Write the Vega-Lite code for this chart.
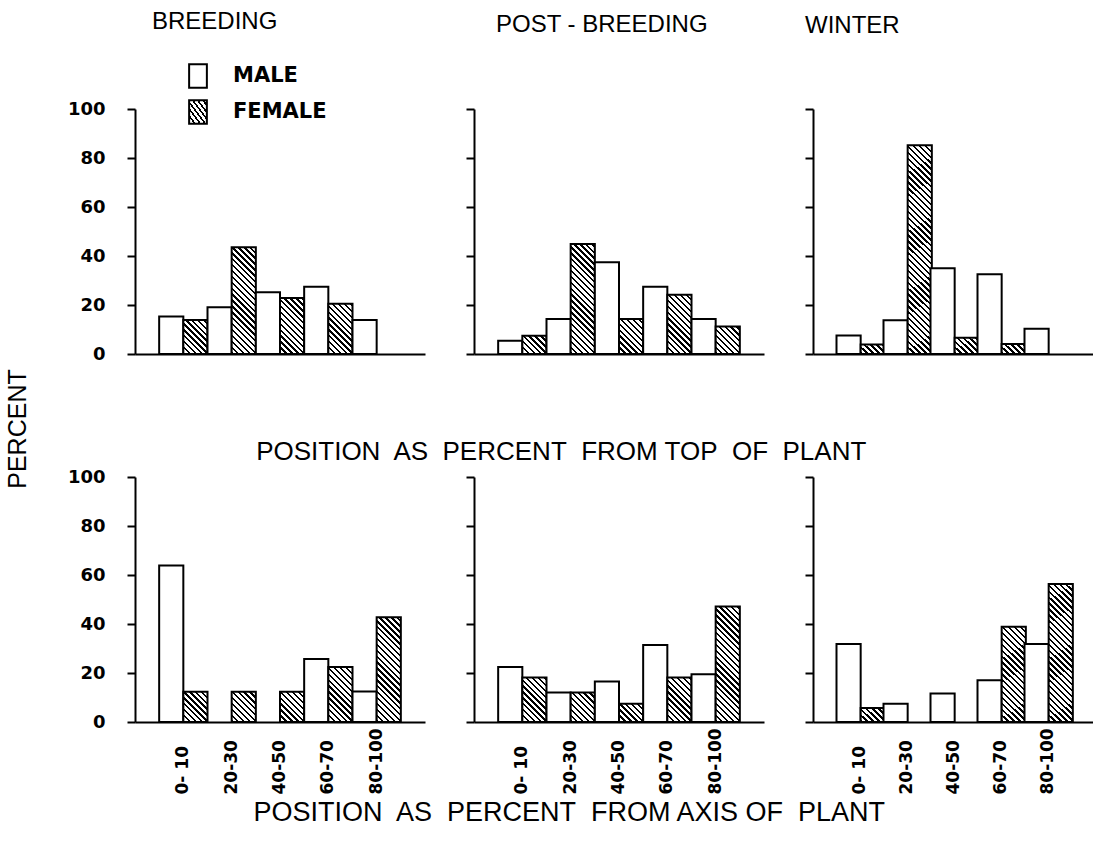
{
  "$schema": "https://vega.github.io/schema/vega-lite/v6.json",
  "background": "white",
  "padding": {"left": 6, "right": 0, "top": 10, "bottom": 4},
  "params": [
    {"name": "hatch", "value": [
      {"offset": 0, "color": "black"}, {"offset": 0.01, "color": "black"}, {"offset": 0.01, "color": "white"}, {"offset": 0.025, "color": "white"},
      {"offset": 0.025, "color": "black"}, {"offset": 0.035, "color": "black"}, {"offset": 0.035, "color": "white"}, {"offset": 0.05, "color": "white"},
      {"offset": 0.05, "color": "black"}, {"offset": 0.06, "color": "black"}, {"offset": 0.06, "color": "white"}, {"offset": 0.075, "color": "white"},
      {"offset": 0.075, "color": "black"}, {"offset": 0.085, "color": "black"}, {"offset": 0.085, "color": "white"}, {"offset": 0.1, "color": "white"},
      {"offset": 0.1, "color": "black"}, {"offset": 0.11, "color": "black"}, {"offset": 0.11, "color": "white"}, {"offset": 0.125, "color": "white"},
      {"offset": 0.125, "color": "black"}, {"offset": 0.135, "color": "black"}, {"offset": 0.135, "color": "white"}, {"offset": 0.15, "color": "white"},
      {"offset": 0.15, "color": "black"}, {"offset": 0.16, "color": "black"}, {"offset": 0.16, "color": "white"}, {"offset": 0.175, "color": "white"},
      {"offset": 0.175, "color": "black"}, {"offset": 0.185, "color": "black"}, {"offset": 0.185, "color": "white"}, {"offset": 0.2, "color": "white"},
      {"offset": 0.2, "color": "black"}, {"offset": 0.21, "color": "black"}, {"offset": 0.21, "color": "white"}, {"offset": 0.225, "color": "white"},
      {"offset": 0.225, "color": "black"}, {"offset": 0.235, "color": "black"}, {"offset": 0.235, "color": "white"}, {"offset": 0.25, "color": "white"},
      {"offset": 0.25, "color": "black"}, {"offset": 0.26, "color": "black"}, {"offset": 0.26, "color": "white"}, {"offset": 0.275, "color": "white"},
      {"offset": 0.275, "color": "black"}, {"offset": 0.285, "color": "black"}, {"offset": 0.285, "color": "white"}, {"offset": 0.3, "color": "white"},
      {"offset": 0.3, "color": "black"}, {"offset": 0.31, "color": "black"}, {"offset": 0.31, "color": "white"}, {"offset": 0.325, "color": "white"},
      {"offset": 0.325, "color": "black"}, {"offset": 0.335, "color": "black"}, {"offset": 0.335, "color": "white"}, {"offset": 0.35, "color": "white"},
      {"offset": 0.35, "color": "black"}, {"offset": 0.36, "color": "black"}, {"offset": 0.36, "color": "white"}, {"offset": 0.375, "color": "white"},
      {"offset": 0.375, "color": "black"}, {"offset": 0.385, "color": "black"}, {"offset": 0.385, "color": "white"}, {"offset": 0.4, "color": "white"},
      {"offset": 0.4, "color": "black"}, {"offset": 0.41, "color": "black"}, {"offset": 0.41, "color": "white"}, {"offset": 0.425, "color": "white"},
      {"offset": 0.425, "color": "black"}, {"offset": 0.435, "color": "black"}, {"offset": 0.435, "color": "white"}, {"offset": 0.45, "color": "white"},
      {"offset": 0.45, "color": "black"}, {"offset": 0.46, "color": "black"}, {"offset": 0.46, "color": "white"}, {"offset": 0.475, "color": "white"},
      {"offset": 0.475, "color": "black"}, {"offset": 0.485, "color": "black"}, {"offset": 0.485, "color": "white"}, {"offset": 0.5, "color": "white"},
      {"offset": 0.5, "color": "black"}, {"offset": 0.51, "color": "black"}, {"offset": 0.51, "color": "white"}, {"offset": 0.525, "color": "white"},
      {"offset": 0.525, "color": "black"}, {"offset": 0.535, "color": "black"}, {"offset": 0.535, "color": "white"}, {"offset": 0.55, "color": "white"},
      {"offset": 0.55, "color": "black"}, {"offset": 0.56, "color": "black"}, {"offset": 0.56, "color": "white"}, {"offset": 0.575, "color": "white"},
      {"offset": 0.575, "color": "black"}, {"offset": 0.585, "color": "black"}, {"offset": 0.585, "color": "white"}, {"offset": 0.6, "color": "white"},
      {"offset": 0.6, "color": "black"}, {"offset": 0.61, "color": "black"}, {"offset": 0.61, "color": "white"}, {"offset": 0.625, "color": "white"},
      {"offset": 0.625, "color": "black"}, {"offset": 0.635, "color": "black"}, {"offset": 0.635, "color": "white"}, {"offset": 0.65, "color": "white"},
      {"offset": 0.65, "color": "black"}, {"offset": 0.66, "color": "black"}, {"offset": 0.66, "color": "white"}, {"offset": 0.675, "color": "white"},
      {"offset": 0.675, "color": "black"}, {"offset": 0.685, "color": "black"}, {"offset": 0.685, "color": "white"}, {"offset": 0.7, "color": "white"},
      {"offset": 0.7, "color": "black"}, {"offset": 0.71, "color": "black"}, {"offset": 0.71, "color": "white"}, {"offset": 0.725, "color": "white"},
      {"offset": 0.725, "color": "black"}, {"offset": 0.735, "color": "black"}, {"offset": 0.735, "color": "white"}, {"offset": 0.75, "color": "white"},
      {"offset": 0.75, "color": "black"}, {"offset": 0.76, "color": "black"}, {"offset": 0.76, "color": "white"}, {"offset": 0.775, "color": "white"},
      {"offset": 0.775, "color": "black"}, {"offset": 0.785, "color": "black"}, {"offset": 0.785, "color": "white"}, {"offset": 0.8, "color": "white"},
      {"offset": 0.8, "color": "black"}, {"offset": 0.81, "color": "black"}, {"offset": 0.81, "color": "white"}, {"offset": 0.825, "color": "white"},
      {"offset": 0.825, "color": "black"}, {"offset": 0.835, "color": "black"}, {"offset": 0.835, "color": "white"}, {"offset": 0.85, "color": "white"},
      {"offset": 0.85, "color": "black"}, {"offset": 0.86, "color": "black"}, {"offset": 0.86, "color": "white"}, {"offset": 0.875, "color": "white"},
      {"offset": 0.875, "color": "black"}, {"offset": 0.885, "color": "black"}, {"offset": 0.885, "color": "white"}, {"offset": 0.9, "color": "white"},
      {"offset": 0.9, "color": "black"}, {"offset": 0.91, "color": "black"}, {"offset": 0.91, "color": "white"}, {"offset": 0.925, "color": "white"},
      {"offset": 0.925, "color": "black"}, {"offset": 0.935, "color": "black"}, {"offset": 0.935, "color": "white"}, {"offset": 0.95, "color": "white"},
      {"offset": 0.95, "color": "black"}, {"offset": 0.96, "color": "black"}, {"offset": 0.96, "color": "white"}, {"offset": 0.975, "color": "white"},
      {"offset": 0.975, "color": "black"}, {"offset": 0.985, "color": "black"}, {"offset": 0.985, "color": "white"}, {"offset": 1, "color": "white"}
    ]},
    {"name": "lhatch", "value": [
      {"offset": 0, "color": "black"}, {"offset": 0.057, "color": "black"}, {"offset": 0.057, "color": "white"}, {"offset": 0.143, "color": "white"},
      {"offset": 0.143, "color": "black"}, {"offset": 0.2, "color": "black"}, {"offset": 0.2, "color": "white"}, {"offset": 0.286, "color": "white"},
      {"offset": 0.286, "color": "black"}, {"offset": 0.343, "color": "black"}, {"offset": 0.343, "color": "white"}, {"offset": 0.429, "color": "white"},
      {"offset": 0.429, "color": "black"}, {"offset": 0.486, "color": "black"}, {"offset": 0.486, "color": "white"}, {"offset": 0.571, "color": "white"},
      {"offset": 0.571, "color": "black"}, {"offset": 0.629, "color": "black"}, {"offset": 0.629, "color": "white"}, {"offset": 0.714, "color": "white"},
      {"offset": 0.714, "color": "black"}, {"offset": 0.771, "color": "black"}, {"offset": 0.771, "color": "white"}, {"offset": 0.857, "color": "white"},
      {"offset": 0.857, "color": "black"}, {"offset": 0.914, "color": "black"}, {"offset": 0.914, "color": "white"}, {"offset": 1, "color": "white"}
    ]}
  ],
  "config": {
    "view": {"stroke": null},
    "axis": {"domainColor": "black", "tickColor": "black", "labelColor": "black", "domainWidth": 2, "tickWidth": 2, "grid": false, "labelFont": "DejaVu Sans", "labelFontWeight": "bold", "labelFontSize": 18},
    "title": {"color": "black", "fontWeight": "normal", "font": "Liberation Sans"},
    "legend": {"title": null, "orient": "none", "legendX": 50, "legendY": -46, "padding": 0, "symbolType": "M-0.75,-1H0.75V1H-0.75Z", "symbolSize": 560, "symbolStrokeWidth": 2, "symbolStrokeColor": "black", "labelFont": "DejaVu Sans", "labelFontSize": 21, "labelFontWeight": "bold", "labelColor": "black", "labelOffset": 22, "rowPadding": 4}
  },
  "data": {"values": [
    {"pos": "top", "season": "BREEDING", "cat": "0- 10", "sex": "MALE", "pct": 15.3},
    {"pos": "top", "season": "BREEDING", "cat": "0- 10", "sex": "FEMALE", "pct": 13.9},
    {"pos": "top", "season": "BREEDING", "cat": "20-30", "sex": "MALE", "pct": 19.1},
    {"pos": "top", "season": "BREEDING", "cat": "20-30", "sex": "FEMALE", "pct": 43.6},
    {"pos": "top", "season": "BREEDING", "cat": "40-50", "sex": "MALE", "pct": 25.2},
    {"pos": "top", "season": "BREEDING", "cat": "40-50", "sex": "FEMALE", "pct": 22.9},
    {"pos": "top", "season": "BREEDING", "cat": "60-70", "sex": "MALE", "pct": 27.5},
    {"pos": "top", "season": "BREEDING", "cat": "60-70", "sex": "FEMALE", "pct": 20.5},
    {"pos": "top", "season": "BREEDING", "cat": "80-100", "sex": "MALE", "pct": 13.9},
    {"pos": "top", "season": "POST - BREEDING", "cat": "0- 10", "sex": "MALE", "pct": 5.4},
    {"pos": "top", "season": "POST - BREEDING", "cat": "0- 10", "sex": "FEMALE", "pct": 7.5},
    {"pos": "top", "season": "POST - BREEDING", "cat": "20-30", "sex": "MALE", "pct": 14.3},
    {"pos": "top", "season": "POST - BREEDING", "cat": "20-30", "sex": "FEMALE", "pct": 44.9},
    {"pos": "top", "season": "POST - BREEDING", "cat": "40-50", "sex": "MALE", "pct": 37.4},
    {"pos": "top", "season": "POST - BREEDING", "cat": "40-50", "sex": "FEMALE", "pct": 14.3},
    {"pos": "top", "season": "POST - BREEDING", "cat": "60-70", "sex": "MALE", "pct": 27.5},
    {"pos": "top", "season": "POST - BREEDING", "cat": "60-70", "sex": "FEMALE", "pct": 24.2},
    {"pos": "top", "season": "POST - BREEDING", "cat": "80-100", "sex": "MALE", "pct": 14.3},
    {"pos": "top", "season": "POST - BREEDING", "cat": "80-100", "sex": "FEMALE", "pct": 11.2},
    {"pos": "top", "season": "WINTER", "cat": "0- 10", "sex": "MALE", "pct": 7.6},
    {"pos": "top", "season": "WINTER", "cat": "0- 10", "sex": "FEMALE", "pct": 3.9},
    {"pos": "top", "season": "WINTER", "cat": "20-30", "sex": "MALE", "pct": 13.8},
    {"pos": "top", "season": "WINTER", "cat": "20-30", "sex": "FEMALE", "pct": 85.2},
    {"pos": "top", "season": "WINTER", "cat": "40-50", "sex": "MALE", "pct": 35.0},
    {"pos": "top", "season": "WINTER", "cat": "40-50", "sex": "FEMALE", "pct": 6.6},
    {"pos": "top", "season": "WINTER", "cat": "60-70", "sex": "MALE", "pct": 32.6},
    {"pos": "top", "season": "WINTER", "cat": "60-70", "sex": "FEMALE", "pct": 4.1},
    {"pos": "top", "season": "WINTER", "cat": "80-100", "sex": "MALE", "pct": 10.3},
    {"pos": "axis", "season": "BREEDING", "cat": "0- 10", "sex": "MALE", "pct": 63.9},
    {"pos": "axis", "season": "BREEDING", "cat": "0- 10", "sex": "FEMALE", "pct": 12.3},
    {"pos": "axis", "season": "BREEDING", "cat": "20-30", "sex": "FEMALE", "pct": 12.3},
    {"pos": "axis", "season": "BREEDING", "cat": "40-50", "sex": "FEMALE", "pct": 12.3},
    {"pos": "axis", "season": "BREEDING", "cat": "60-70", "sex": "MALE", "pct": 25.7},
    {"pos": "axis", "season": "BREEDING", "cat": "60-70", "sex": "FEMALE", "pct": 22.4},
    {"pos": "axis", "season": "BREEDING", "cat": "80-100", "sex": "MALE", "pct": 12.5},
    {"pos": "axis", "season": "BREEDING", "cat": "80-100", "sex": "FEMALE", "pct": 42.8},
    {"pos": "axis", "season": "POST - BREEDING", "cat": "0- 10", "sex": "MALE", "pct": 22.5},
    {"pos": "axis", "season": "POST - BREEDING", "cat": "0- 10", "sex": "FEMALE", "pct": 18.2},
    {"pos": "axis", "season": "POST - BREEDING", "cat": "20-30", "sex": "MALE", "pct": 12.0},
    {"pos": "axis", "season": "POST - BREEDING", "cat": "20-30", "sex": "FEMALE", "pct": 12.0},
    {"pos": "axis", "season": "POST - BREEDING", "cat": "40-50", "sex": "MALE", "pct": 16.5},
    {"pos": "axis", "season": "POST - BREEDING", "cat": "40-50", "sex": "FEMALE", "pct": 7.5},
    {"pos": "axis", "season": "POST - BREEDING", "cat": "60-70", "sex": "MALE", "pct": 31.4},
    {"pos": "axis", "season": "POST - BREEDING", "cat": "60-70", "sex": "FEMALE", "pct": 18.2},
    {"pos": "axis", "season": "POST - BREEDING", "cat": "80-100", "sex": "MALE", "pct": 19.5},
    {"pos": "axis", "season": "POST - BREEDING", "cat": "80-100", "sex": "FEMALE", "pct": 47.1},
    {"pos": "axis", "season": "WINTER", "cat": "0- 10", "sex": "MALE", "pct": 31.8},
    {"pos": "axis", "season": "WINTER", "cat": "0- 10", "sex": "FEMALE", "pct": 5.7},
    {"pos": "axis", "season": "WINTER", "cat": "20-30", "sex": "MALE", "pct": 7.5},
    {"pos": "axis", "season": "WINTER", "cat": "40-50", "sex": "MALE", "pct": 11.6},
    {"pos": "axis", "season": "WINTER", "cat": "60-70", "sex": "MALE", "pct": 17.0},
    {"pos": "axis", "season": "WINTER", "cat": "60-70", "sex": "FEMALE", "pct": 38.9},
    {"pos": "axis", "season": "WINTER", "cat": "80-100", "sex": "MALE", "pct": 31.8},
    {"pos": "axis", "season": "WINTER", "cat": "80-100", "sex": "FEMALE", "pct": 56.3}
  ]},
  "title": {"text": "PERCENT", "orient": "left", "anchor": "middle", "fontSize": 25, "offset": 36, "dx": -11},
  "spacing": 3,
  "vconcat": [
    {
      "spacing": 40,
      "title": {"text": "POSITION\u00a0 AS\u00a0 PERCENT\u00a0 FROM TOP\u00a0 OF\u00a0 PLANT", "orient": "bottom", "anchor": "middle", "fontSize": 26, "offset": 76, "dx": -20},
      "hconcat": [
        {
          "width": 290, "height": 245,
          "title": {"text": "BREEDING", "anchor": "start", "frame": "group", "dx": 17, "offset": 66, "fontSize": 24},
          "transform": [{"filter": "datum.pos === 'top' && datum.season === 'BREEDING'"}],
          "mark": {"type": "bar", "strokeWidth": 2, "stroke": "black"},
          "encoding": {
            "x": {"field": "cat", "type": "nominal", "scale": {"domain": ["0- 10", "20-30", "40-50", "60-70", "80-100"], "paddingInner": 0, "paddingOuter": 0.5}, "axis": {"title": null, "labels": false, "ticks": false}},
            "xOffset": {"field": "sex", "type": "nominal", "scale": {"domain": ["MALE", "FEMALE"]}},
            "y": {"field": "pct", "type": "quantitative", "scale": {"domain": [0, 100], "nice": false}, "axis": {"title": null, "values": [0, 20, 40, 60, 80, 100], "tickSize": 8, "labelPadding": 22}},
            "fill": {"field": "sex", "type": "nominal", "scale": {"domain": ["MALE", "FEMALE"], "range": ["white", {"expr": "{gradient: 'linear', x1: 0, y1: 1, x2: 1, y2: 0, stops: lhatch}"}]}, "condition": {"test": "datum.sex === 'FEMALE'", "value": {"expr": "{gradient: 'linear', x1: 0, y1: 1, x2: 24.17 * 236 / (584.2 + pow(datum.pct * 2.45, 2)), y2: 1 - datum.pct * 2.45 * 236 / (584.2 + pow(datum.pct * 2.45, 2)), stops: hatch}"}}}
          }
        },
        {
          "width": 290, "height": 245,
          "title": {"text": "POST - BREEDING", "anchor": "start", "frame": "group", "dx": 22, "offset": 71, "fontSize": 24},
          "transform": [{"filter": "datum.pos === 'top' && datum.season === 'POST - BREEDING'"}],
          "mark": {"type": "bar", "strokeWidth": 2, "stroke": "black"},
          "encoding": {
            "x": {"field": "cat", "type": "nominal", "scale": {"domain": ["0- 10", "20-30", "40-50", "60-70", "80-100"], "paddingInner": 0, "paddingOuter": 0.5}, "axis": {"title": null, "labels": false, "ticks": false}},
            "xOffset": {"field": "sex", "type": "nominal", "scale": {"domain": ["MALE", "FEMALE"]}},
            "y": {"field": "pct", "type": "quantitative", "scale": {"domain": [0, 100], "nice": false}, "axis": {"title": null, "values": [0, 20, 40, 60, 80, 100], "tickSize": 8, "labels": false}},
            "fill": {"field": "sex", "type": "nominal", "scale": {"domain": ["MALE", "FEMALE"], "range": ["white", {"expr": "{gradient: 'linear', x1: 0, y1: 1, x2: 1, y2: 0, stops: lhatch}"}]}, "condition": {"test": "datum.sex === 'FEMALE'", "value": {"expr": "{gradient: 'linear', x1: 0, y1: 1, x2: 24.17 * 236 / (584.2 + pow(datum.pct * 2.45, 2)), y2: 1 - datum.pct * 2.45 * 236 / (584.2 + pow(datum.pct * 2.45, 2)), stops: hatch}"}}}
          }
        },
        {
          "width": 282, "height": 245,
          "title": {"text": "WINTER", "anchor": "start", "frame": "group", "dx": -8, "offset": 70, "fontSize": 24},
          "transform": [{"filter": "datum.pos === 'top' && datum.season === 'WINTER'"}],
          "mark": {"type": "bar", "strokeWidth": 2, "stroke": "black"},
          "encoding": {
            "x": {"field": "cat", "type": "nominal", "scale": {"domain": ["0- 10", "20-30", "40-50", "60-70", "80-100"], "paddingInner": 0, "paddingOuter": 0.5}, "axis": {"title": null, "labels": false, "ticks": false}},
            "xOffset": {"field": "sex", "type": "nominal", "scale": {"domain": ["MALE", "FEMALE"]}},
            "y": {"field": "pct", "type": "quantitative", "scale": {"domain": [0, 100], "nice": false}, "axis": {"title": null, "values": [0, 20, 40, 60, 80, 100], "tickSize": 8, "labels": false}},
            "fill": {"field": "sex", "type": "nominal", "scale": {"domain": ["MALE", "FEMALE"], "range": ["white", {"expr": "{gradient: 'linear', x1: 0, y1: 1, x2: 1, y2: 0, stops: lhatch}"}]}, "condition": {"test": "datum.sex === 'FEMALE'", "value": {"expr": "{gradient: 'linear', x1: 0, y1: 1, x2: 23.5 * 236 / (552.3 + pow(datum.pct * 2.45, 2)), y2: 1 - datum.pct * 2.45 * 236 / (552.3 + pow(datum.pct * 2.45, 2)), stops: hatch}"}}}
          }
        }
      ]
    },
    {
      "spacing": 40,
      "title": {"text": "POSITION\u00a0 AS\u00a0 PERCENT\u00a0 FROM AXIS OF\u00a0 PLANT", "orient": "bottom", "anchor": "middle", "fontSize": 27, "offset": 6, "dx": -12},
      "hconcat": [
        {
          "width": 290, "height": 245,
          "transform": [{"filter": "datum.pos === 'axis' && datum.season === 'BREEDING'"}],
          "mark": {"type": "bar", "strokeWidth": 2, "stroke": "black"},
          "encoding": {
            "x": {"field": "cat", "type": "nominal", "scale": {"domain": ["0- 10", "20-30", "40-50", "60-70", "80-100"], "paddingInner": 0, "paddingOuter": 0.5}, "axis": {"title": null, "ticks": false, "labelAngle": -90, "labelAlign": "left", "labelBaseline": "middle", "labelPadding": 72, "labelFontSize": 17, "labelOverlap": false}},
            "xOffset": {"field": "sex", "type": "nominal", "scale": {"domain": ["MALE", "FEMALE"]}},
            "y": {"field": "pct", "type": "quantitative", "scale": {"domain": [0, 100], "nice": false}, "axis": {"title": null, "values": [0, 20, 40, 60, 80, 100], "tickSize": 8, "labelPadding": 22}},
            "fill": {"field": "sex", "type": "nominal", "scale": {"domain": ["MALE", "FEMALE"], "range": ["white", {"expr": "{gradient: 'linear', x1: 0, y1: 1, x2: 1, y2: 0, stops: lhatch}"}]}, "condition": {"test": "datum.sex === 'FEMALE'", "value": {"expr": "{gradient: 'linear', x1: 0, y1: 1, x2: 24.17 * 236 / (584.2 + pow(datum.pct * 2.45, 2)), y2: 1 - datum.pct * 2.45 * 236 / (584.2 + pow(datum.pct * 2.45, 2)), stops: hatch}"}}}
          }
        },
        {
          "width": 290, "height": 245,
          "transform": [{"filter": "datum.pos === 'axis' && datum.season === 'POST - BREEDING'"}],
          "mark": {"type": "bar", "strokeWidth": 2, "stroke": "black"},
          "encoding": {
            "x": {"field": "cat", "type": "nominal", "scale": {"domain": ["0- 10", "20-30", "40-50", "60-70", "80-100"], "paddingInner": 0, "paddingOuter": 0.5}, "axis": {"title": null, "ticks": false, "labelAngle": -90, "labelAlign": "left", "labelBaseline": "middle", "labelPadding": 72, "labelFontSize": 17, "labelOverlap": false}},
            "xOffset": {"field": "sex", "type": "nominal", "scale": {"domain": ["MALE", "FEMALE"]}},
            "y": {"field": "pct", "type": "quantitative", "scale": {"domain": [0, 100], "nice": false}, "axis": {"title": null, "values": [0, 20, 40, 60, 80, 100], "tickSize": 8, "labels": false}},
            "fill": {"field": "sex", "type": "nominal", "scale": {"domain": ["MALE", "FEMALE"], "range": ["white", {"expr": "{gradient: 'linear', x1: 0, y1: 1, x2: 1, y2: 0, stops: lhatch}"}]}, "condition": {"test": "datum.sex === 'FEMALE'", "value": {"expr": "{gradient: 'linear', x1: 0, y1: 1, x2: 24.17 * 236 / (584.2 + pow(datum.pct * 2.45, 2)), y2: 1 - datum.pct * 2.45 * 236 / (584.2 + pow(datum.pct * 2.45, 2)), stops: hatch}"}}}
          }
        },
        {
          "width": 282, "height": 245,
          "transform": [{"filter": "datum.pos === 'axis' && datum.season === 'WINTER'"}],
          "mark": {"type": "bar", "strokeWidth": 2, "stroke": "black"},
          "encoding": {
            "x": {"field": "cat", "type": "nominal", "scale": {"domain": ["0- 10", "20-30", "40-50", "60-70", "80-100"], "paddingInner": 0, "paddingOuter": 0.5}, "axis": {"title": null, "ticks": false, "labelAngle": -90, "labelAlign": "left", "labelBaseline": "middle", "labelPadding": 72, "labelFontSize": 17, "labelOverlap": false}},
            "xOffset": {"field": "sex", "type": "nominal", "scale": {"domain": ["MALE", "FEMALE"]}},
            "y": {"field": "pct", "type": "quantitative", "scale": {"domain": [0, 100], "nice": false}, "axis": {"title": null, "values": [0, 20, 40, 60, 80, 100], "tickSize": 8, "labels": false}},
            "fill": {"field": "sex", "type": "nominal", "scale": {"domain": ["MALE", "FEMALE"], "range": ["white", {"expr": "{gradient: 'linear', x1: 0, y1: 1, x2: 1, y2: 0, stops: lhatch}"}]}, "condition": {"test": "datum.sex === 'FEMALE'", "value": {"expr": "{gradient: 'linear', x1: 0, y1: 1, x2: 23.5 * 236 / (552.3 + pow(datum.pct * 2.45, 2)), y2: 1 - datum.pct * 2.45 * 236 / (552.3 + pow(datum.pct * 2.45, 2)), stops: hatch}"}}}
          }
        }
      ]
    }
  ]
}
